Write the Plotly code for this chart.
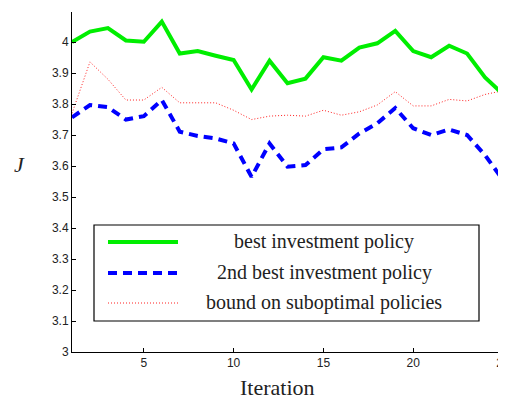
import plotly.graph_objects as go

iterations = list(range(1, 26))
best = [4.000, 4.034, 4.045, 4.005, 4.001, 4.066, 3.963, 3.971, 3.956, 3.942,
        3.847, 3.940, 3.867, 3.882, 3.951, 3.940, 3.982, 3.996, 4.036, 3.971,
        3.951, 3.988, 3.963, 3.886, 3.832]
second = [3.757, 3.797, 3.790, 3.750, 3.761, 3.813, 3.711, 3.697, 3.689, 3.673,
          3.565, 3.673, 3.598, 3.603, 3.654, 3.660, 3.705, 3.738, 3.787, 3.722,
          3.700, 3.718, 3.700, 3.635, 3.555]
bound = [3.770, 3.936, 3.880, 3.813, 3.813, 3.854, 3.804, 3.804, 3.804, 3.780,
         3.750, 3.761, 3.764, 3.761, 3.780, 3.764, 3.775, 3.797, 3.840, 3.794,
         3.794, 3.815, 3.810, 3.831, 3.843]
names = ["best investment policy", "2nd best investment policy", "bound on suboptimal policies"]
y_ticks = [3, 3.1, 3.2, 3.3, 3.4, 3.5, 3.6, 3.7, 3.8, 3.9, 4]
x_ticks = [5, 10, 15, 20, 25]

fig = go.Figure()
fig.add_trace(go.Scatter(x=iterations, y=bound, mode="lines", name=names[2],
                         line=dict(color="#ff2020", width=1, dash="1px,2px")))
fig.add_trace(go.Scatter(x=iterations, y=second, mode="lines", name=names[1],
                         line=dict(color="#0000ff", width=4, dash="9px,6px")))
fig.add_trace(go.Scatter(x=iterations, y=best, mode="lines", name=names[0],
                         line=dict(color="#00ee00", width=4)))

serif = "Liberation Serif"
OFF = 8  # default page body margin
FW, FH = 506 - OFF, 399 - OFF
L, R, T, B = 72 - OFF, 503 - OFF, 12 - OFF, 352 - OFF
W, H = R - L, B - T


def px(x):
    return (x - OFF - L) / W


def py(y):
    return (B - (y - OFF)) / H


# manual legend (centered text, like the reference)
fig.add_shape(type="rect", xref="paper", yref="paper",
              x0=px(94), x1=px(479), y0=py(321), y1=py(225),
              line=dict(color="black", width=1.2), fillcolor="white", layer="above")
leg_styles = [dict(color="#00ee00", width=4),
              dict(color="#0000ff", width=4, dash="9px,6px"),
              dict(color="#ff2020", width=1, dash="1px,2px")]
leg_y = [242, 273, 303]
for nm, st, yy in zip(names, leg_styles, leg_y):
    fig.add_shape(type="line", xref="paper", yref="paper",
                  x0=px(108), x1=px(178), y0=py(yy), y1=py(yy),
                  line=st, layer="above")
    fig.add_annotation(xref="paper", yref="paper", x=px(324), y=py(yy - 1),
                       text=nm, showarrow=False, xanchor="center", yanchor="middle",
                       font=dict(family=serif, size=20, color="#222222"))

fig.add_annotation(xref="paper", yref="paper", x=px(19), y=py(164),
                   text="<i>J</i>", showarrow=False, xanchor="center", yanchor="middle",
                   font=dict(family=serif, size=22, color="#222222"))
fig.add_annotation(xref="paper", yref="paper", x=px(277), y=py(387),
                   text="Iteration", showarrow=False, xanchor="center", yanchor="middle",
                   font=dict(family=serif, size=22, color="#222222"))

fig.update_layout(
    width=FW, height=FH,
    margin=dict(l=L, r=FW - R, t=T, b=FH - B, autoexpand=False),
    plot_bgcolor="white", paper_bgcolor="white",
    showlegend=False,
    font=dict(family="Liberation Sans", size=12, color="#222222"),
    xaxis=dict(range=[1, 25], tickvals=x_ticks, ticks="inside", ticklen=4,
               ticklabeloverflow="allow",
               showgrid=False, zeroline=False, showline=True, linecolor="black",
               linewidth=1, tickcolor="black", automargin=False),
    yaxis=dict(range=[3, 4.097], tickvals=y_ticks, ticktext=[f"{v:g}" for v in y_ticks],
               ticks="inside", ticklen=4, ticklabeloverflow="allow",
               showgrid=False, zeroline=False, showline=True, linecolor="black",
               linewidth=1, tickcolor="black", automargin=False),
)
fig.write_html("out.html")
